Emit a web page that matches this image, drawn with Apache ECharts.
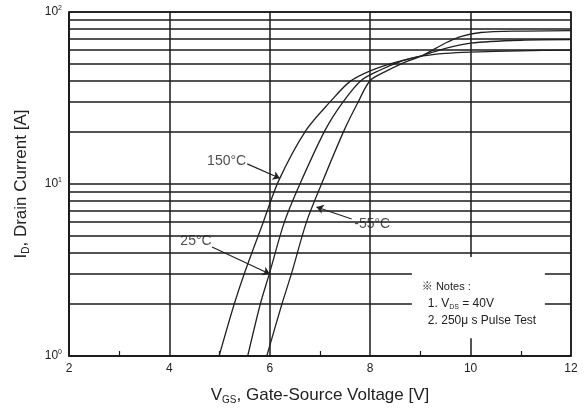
<!DOCTYPE html>
<html>
<head>
<meta charset="utf-8">
<script src="https://cdn.jsdelivr.net/npm/echarts@6/dist/echarts.min.js"></script>
<style>
  html, body { margin: 0; padding: 0; background: #fff; }
  #chart { width: 586px; height: 411px; }
</style>
</head>
<body>
<div id="chart"></div>
<script>
// transfer characteristics
const vgs150 = [4.99, 5.29, 5.49, 5.87, 6.18, 6.72, 7.20, 7.60, 8.0, 8.5, 9.05, 9.5, 10, 11, 12]
const id150  = [1.0, 2.0, 3.0, 6.0, 10.5, 20.5, 30, 39.5, 45.5, 51, 55.5, 57.5, 58.5, 59.5, 60]

const vgs25 = [5.56, 5.81, 5.99, 6.29, 6.60, 7.10, 7.46, 7.82, 8.2, 8.6, 9.05, 9.5, 10, 11, 12]
const id25  = [1.0, 2.0, 3.0, 6.0, 10, 20.5, 30, 40, 46, 51.5, 56, 61.5, 66, 68.5, 69]

const vgsM55 = [5.94, 6.24, 6.43, 6.73, 7.03, 7.48, 7.76, 8.0, 8.3, 8.65, 9.05, 9.5, 9.8, 10.2, 11, 12]
const idM55  = [1.0, 2.0, 3.0, 6.0, 10, 20.5, 30, 40, 45, 50.5, 56, 66, 72, 76, 77.5, 78]

// log grid lines between the decades
const minorGrid = [2, 3, 4, 5, 6, 7, 8, 9, 20, 30, 40, 50, 60, 70, 80, 90]

// curve labels and their arrows: [V, I]
const tempNames = ['150\u00b0C', '25\u00b0C', '-55\u00b0C']
const labelAt   = [[5.14, 13.6], [4.53, 4.66], [8.04, 5.85]]
const arrowFrom = [[5.55, 13.1], [4.85, 4.3], [7.63, 6.26]]
const arrowTo   = [[6.20, 10.8], [6.0, 3.0], [6.93, 7.35]]

// notes box corners [V, I]
const notesBox = [[8.83, 3.76], [11.48, 1.27]]
const notesLines = ['\u203b Notes :', '1. V{sub|DS} = 40V', '2. 250\u03bc s Pulse Test']

const FONT = 'Liberation Sans, Arial, sans-serif'
const INK = '#1a1a1a'

const zip = (xs, ys) => xs.map((x, i) => [x, ys[i]])

const curve = (name, xs, ys) => ({
  name,
  type: 'line',
  data: zip(xs, ys),
  smooth: 0.3,
  showSymbol: false,
  silent: true,
  z: 4,
  lineStyle: { color: '#222', width: 1.3 }
})

const titleRich = {
  n: { fontFamily: FONT, fontSize: 17, color: '#222' },
  sub: { fontFamily: FONT, fontSize: 10, color: '#222', padding: [9, 0, 0, 0] }
}

const chart = echarts.init(document.getElementById('chart'))

chart.setOption({
  animation: false,
  backgroundColor: '#fff',
  grid: {
    left: 69, right: 15, top: 12, bottom: 55,
    show: true, borderColor: INK, borderWidth: 1.5, backgroundColor: 'transparent'
  },
  xAxis: {
    type: 'value',
    min: 2, max: 12, interval: 2,
    name: '{n|V}{sub|GS}{n|, Gate-Source Voltage [V]}',
    nameLocation: 'middle',
    nameGap: 30,
    nameTextStyle: { rich: titleRich },
    axisLine: { lineStyle: { color: INK, width: 1.5 } },
    axisTick: { show: false },
    minorTick: { show: true, splitNumber: 2, length: -5, lineStyle: { color: INK, width: 1.2 } },
    axisLabel: { fontFamily: FONT, fontSize: 12, color: '#222', margin: 7 },
    splitLine: { show: true, lineStyle: { color: INK, width: 1.5 } }
  },
  yAxis: {
    type: 'log',
    logBase: 10,
    min: 1, max: 100,
    name: '{n|I}{sub|D}{n|, Drain Current [A]}',
    nameLocation: 'middle',
    nameGap: 38,
    nameRotate: 90,
    nameTextStyle: { rich: titleRich },
    axisLine: { lineStyle: { color: INK, width: 1.5 } },
    axisTick: { show: false },
    axisLabel: {
      fontFamily: FONT, color: '#222', margin: 7,
      formatter: v => '{b|10}{s|' + Math.round(Math.log10(v)) + '}',
      rich: {
        b: { fontFamily: FONT, fontSize: 12, color: '#222' },
        s: { fontFamily: FONT, fontSize: 7, color: '#222', padding: [0, 0, 8, 0] }
      }
    },
    splitLine: { show: true, lineStyle: { color: INK, width: 1.5 } }
  },
  series: [
    {
      name: 'grid',
      type: 'line',
      data: [],
      silent: true,
      z: 1,
      markLine: {
        silent: true,
        symbol: ['none', 'none'],
        label: { show: false },
        lineStyle: { color: INK, width: 1.5, type: 'solid' },
        data: minorGrid.map(v => ({ yAxis: v }))
      }
    },
    curve('150\u00b0C', vgs150, id150),
    curve('25\u00b0C', vgs25, id25),
    curve('-55\u00b0C', vgsM55, idM55),
    {
      name: 'arrows',
      type: 'lines',
      coordinateSystem: 'cartesian2d',
      silent: true,
      z: 5,
      symbol: ['none', 'arrow'],
      symbolSize: 7,
      lineStyle: { color: '#222', width: 1.2, opacity: 1 },
      data: arrowFrom.map((p, i) => ({ coords: [p, arrowTo[i]] }))
    },
    {
      name: 'labels',
      type: 'scatter',
      silent: true,
      z: 5,
      symbolSize: 1,
      itemStyle: { color: 'rgba(0,0,0,0)' },
      label: {
        show: true,
        position: 'inside',
        fontFamily: FONT,
        fontSize: 14,
        color: '#222',
        formatter: p => tempNames[p.dataIndex]
      },
      data: labelAt
    }
  ]
})

// white notes panel over the grid
const p0 = chart.convertToPixel({ gridIndex: 0 }, notesBox[0])
const p1 = chart.convertToPixel({ gridIndex: 0 }, notesBox[1])
chart.setOption({
  graphic: [
    {
      type: 'rect',
      z: 100,
      silent: true,
      shape: { x: p0[0], y: p0[1], width: p1[0] - p0[0], height: p1[1] - p0[1] },
      style: { fill: '#fff' }
    },
    ...notesLines.map((t, i) => ({
      type: 'text',
      z: 101,
      silent: true,
      x: p0[0] + (i === 0 ? 10 : 16),
      y: p0[1] + 30 + i * 17,
      style: {
        text: t,
        fontFamily: FONT + ', Noto Sans CJK SC',
        fontSize: i === 0 ? 11 : 12,
        fill: '#222',
        verticalAlign: 'middle',
        rich: {
          sub: { fontFamily: FONT, fontSize: 7, fill: '#222', padding: [6, 0, 0, 0] }
        }
      }
    }))
  ]
})
</script>
</body>
</html>
